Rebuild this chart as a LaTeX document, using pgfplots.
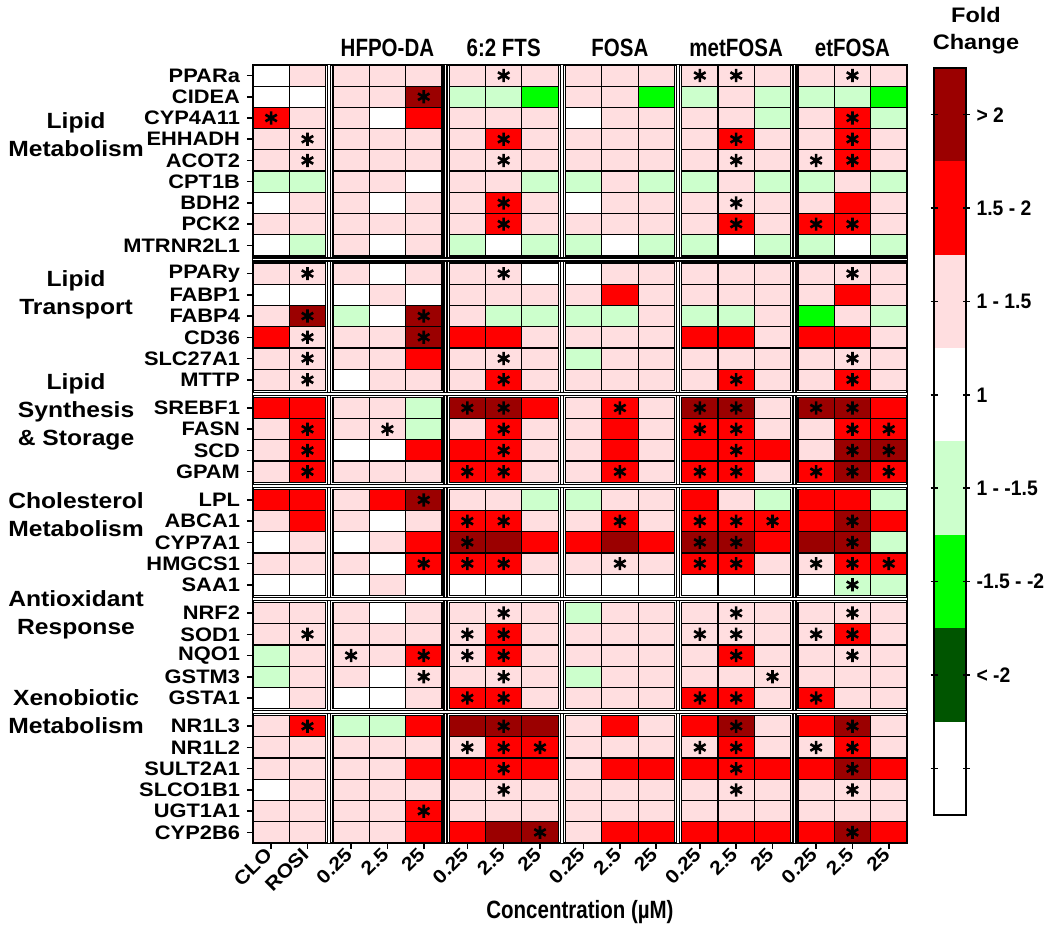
\documentclass[border=0pt]{standalone}
\usepackage{pgfplots}
\pgfplotsset{compat=1.18}
\usepackage{pgfplotstable}
\usepackage{fontspec}
\setmainfont{Liberation Sans}
\newfontfamily\widefont[FakeStretch=1.12]{Liberation Sans}
\newfontfamily\narrowfont[FakeStretch=0.82]{Liberation Sans}
\newfontfamily\legfont[FakeStretch=0.92]{Liberation Sans}
\definecolor{dred}{RGB}{155,0,0}
\definecolor{fred}{RGB}{255,0,0}
\definecolor{pnk}{RGB}{255,222,224}
\definecolor{lgrn}{RGB}{204,255,204}
\definecolor{grn}{RGB}{0,255,0}
\definecolor{dgrn}{RGB}{0,85,0}
\pgfdeclareplotmark{cell}{\pgfpathrectangle{\pgfpoint{-9.0825pt}{-5.3075pt}}{\pgfpoint{18.165pt}{10.615pt}}\pgfusepathqfillstroke}

% fold-change class: 3 (>2), 2 (1.5-2), 1 (1-1.5), 0 (1), -1 (1 - -1.5), -2 (-1.5 - -2), -3 (< -2)
% columns: CLO ROSI | HFPO-DA 0.25 2.5 25 | 6:2 FTS | FOSA | metFOSA | etFOSA
\pgfplotstableread{
c0 c1 c2 c3 c4 c5 c6 c7 c8 c9 c10 c11 c12 c13 c14 c15 c16
0 1 1 1 1 1 1 1 1 1 1 1 1 1 1 1 1
0 0 1 1 3 -1 -1 -2 1 1 -2 -1 1 -1 -1 -1 -2
2 1 1 0 2 1 1 1 0 1 1 1 1 -1 1 2 -1
1 1 1 1 1 1 2 1 1 1 1 1 2 1 1 2 1
1 1 1 1 1 1 1 1 1 1 1 1 1 1 1 2 1
-1 -1 1 1 0 1 1 -1 -1 1 -1 -1 1 -1 -1 1 -1
0 1 1 0 1 1 2 1 0 1 1 1 1 1 1 2 1
1 1 1 1 1 1 2 1 1 1 1 1 2 1 2 2 1
0 -1 1 0 1 -1 0 -1 -1 0 -1 -1 0 -1 -1 0 -1
1 1 1 0 1 1 1 0 0 1 1 1 1 1 1 1 1
0 0 0 1 0 1 1 1 1 2 1 1 1 1 1 2 1
1 3 -1 0 3 1 -1 -1 -1 -1 1 -1 -1 1 -2 1 -1
2 1 1 1 3 2 2 1 1 1 1 2 2 1 2 2 1
1 1 1 1 2 1 1 1 -1 1 1 1 1 1 1 1 1
1 1 0 1 1 1 2 1 1 1 1 1 2 1 1 2 1
2 2 1 1 -1 3 3 2 1 2 1 3 3 1 3 3 2
1 2 1 1 -1 1 2 1 1 2 1 2 2 1 1 2 2
1 2 0 0 2 2 2 1 1 2 1 2 2 2 1 3 3
1 2 1 1 1 2 2 1 1 2 1 2 2 1 2 3 2
2 2 1 2 3 1 1 -1 -1 1 1 2 1 -1 2 2 -1
1 2 1 0 1 2 2 1 1 2 1 2 2 2 2 3 2
0 1 0 1 2 3 3 2 2 3 2 3 3 2 3 3 -1
1 1 1 0 2 2 2 1 1 1 1 2 2 1 1 2 2
0 0 0 1 0 0 0 0 0 0 0 0 0 0 0 -1 -1
1 1 1 0 1 1 1 1 -1 1 1 1 1 1 1 1 1
1 1 1 1 1 1 2 1 1 1 1 1 1 1 1 2 1
-1 1 1 1 2 1 2 1 1 1 1 1 2 1 1 1 1
-1 1 1 0 1 1 1 1 -1 1 1 1 1 1 1 1 1
0 1 0 0 1 2 2 1 1 1 1 2 2 1 2 1 1
1 2 -1 -1 2 3 3 3 1 2 1 2 3 1 2 3 1
1 1 1 1 1 1 2 2 1 1 1 1 2 1 1 2 1
1 1 1 1 2 2 2 2 1 2 2 2 2 2 2 3 2
0 1 1 1 1 1 1 1 1 1 1 1 1 1 1 1 1
1 1 1 1 2 1 1 1 1 1 1 1 1 1 1 1 1
1 1 1 1 2 2 3 3 1 2 2 2 2 2 2 3 2
}\fc

% significant cells: column index c, row index r
\pgfplotstableread{
c r
6 0
11 0
12 0
15 0
4 1
0 2
15 2
1 3
6 3
12 3
15 3
1 4
6 4
12 4
14 4
15 4
6 6
12 6
6 7
12 7
14 7
15 7
1 9
6 9
15 9
1 11
4 11
1 12
4 12
1 13
6 13
15 13
1 14
6 14
12 14
15 14
5 15
6 15
9 15
11 15
12 15
14 15
15 15
1 16
3 16
6 16
11 16
12 16
15 16
16 16
1 17
6 17
12 17
15 17
16 17
1 18
5 18
6 18
9 18
11 18
12 18
14 18
15 18
16 18
4 19
5 20
6 20
9 20
11 20
12 20
13 20
15 20
5 21
11 21
12 21
15 21
4 22
5 22
6 22
9 22
11 22
12 22
14 22
15 22
16 22
15 23
6 24
12 24
15 24
1 25
5 25
6 25
11 25
12 25
14 25
15 25
2 26
4 26
5 26
6 26
12 26
15 26
4 27
6 27
13 27
5 28
6 28
11 28
12 28
14 28
1 29
6 29
12 29
15 29
5 30
6 30
7 30
11 30
12 30
14 30
15 30
6 31
12 31
15 31
6 32
12 32
15 32
4 33
7 34
15 34
}\stars

\begin{document}
\begin{tikzpicture}
\useasboundingbox (0,0) rectangle (525pt,465.5pt);
\begin{axis}[
  at={(126.5pt,44pt)}, anchor=south west,
  x=18.165pt, y=10.615pt, y dir=reverse,
  xmin=-0.5, xmax=17.5, ymin=-0.5, ymax=36.15,
  clip=false, axis on top,
  axis line style={black, line width=1.2pt},
  tick pos=left, tick align=outside, major tick length=3pt,
  tick style={black, line width=0.8pt},
  xtick={0,1,2.2,3.2,4.2,5.4,6.4,7.4,8.6,9.6,10.6,11.8,12.8,13.8,15,16,17},
  xticklabels={CLO,ROSI,0.25,2.5,25,0.25,2.5,25,0.25,2.5,25,0.25,2.5,25,0.25,2.5,25},
  xticklabel style={rotate=45, anchor=east, inner sep=1.5pt, font=\fontsize{9.5}{11}\selectfont\widefont\bfseries},
  ytick={0,1,2,3,4,5,6,7,8,9.33,10.33,11.33,12.33,13.33,14.33,15.66,16.66,17.66,18.66,19.99,20.99,21.99,22.99,23.99,25.32,26.32,27.32,28.32,29.32,30.65,31.65,32.65,33.65,34.65,35.65},
  yticklabels={PPARa,CIDEA,CYP4A11,EHHADH,ACOT2,CPT1B,BDH2,PCK2,MTRNR2L1,PPARy,FABP1,FABP4,CD36,SLC27A1,MTTP,SREBF1,FASN,SCD,GPAM,LPL,ABCA1,CYP7A1,HMGCS1,SAA1,NRF2,SOD1,NQO1,GSTM3,GSTA1,NR1L3,NR1L2,SULT2A1,SLCO1B1,UGT1A1,CYP2B6},
  yticklabel style={font=\fontsize{9.75}{11}\selectfont\widefont\bfseries},
  extra x ticks={1.6,4.8,8,11.2,14.4},
  extra x tick labels={},
  extra x tick style={grid=major, major tick length=0pt, major grid style={black, line width=0.7pt, double=white, double distance=0.8pt}},
  extra y ticks={8.665,14.995,19.325,24.655,29.985},
  extra y tick labels={},
  extra y tick style={grid=major, major tick length=0pt, major grid style={black, line width=0.7pt, double=white, double distance=0.8pt}},
]
\pgfplotsinvokeforeach{0,...,16}{
  \addplot[scatter, only marks, mark=cell, scatter src=explicit symbolic,
    scatter/classes={3={fill=dred},2={fill=fred},1={fill=pnk},0={fill=white},-1={fill=lgrn},-2={fill=grn},-3={fill=dgrn}},
    mark options={draw=black, line width=0.6pt}]
    table[x expr={#1+0.2*((#1>1)+(#1>4)+(#1>7)+(#1>10)+(#1>13))},
          y expr={\coordindex+0.33*((\coordindex>8)+(\coordindex>14)+(\coordindex>18)+(\coordindex>23)+(\coordindex>28))},
          meta=c#1] {\fc};
}
\addplot[only marks, mark=asterisk, mark size=3.3pt, mark options={black, line width=1.3pt}]
  table[x expr={\thisrow{c}+0.2*((\thisrow{c}>1)+(\thisrow{c}>4)+(\thisrow{c}>7)+(\thisrow{c}>10)+(\thisrow{c}>13))},
        y expr={\thisrow{r}+0.33*((\thisrow{r}>8)+(\thisrow{r}>14)+(\thisrow{r}>18)+(\thisrow{r}>23)+(\thisrow{r}>28))}] {\stars};

\begin{scope}[every node/.style={font=\fontsize{12.5}{15}\selectfont\narrowfont\bfseries}]
\node[yshift=8.5pt] at (axis cs:3.2,-0.5) {HFPO-DA};
\node[yshift=8.5pt] at (axis cs:6.4,-0.5) {6:2 FTS};
\node[yshift=8.5pt] at (axis cs:9.6,-0.5) {FOSA};
\node[yshift=8.5pt] at (axis cs:12.8,-0.5) {metFOSA};
\node[yshift=8.5pt] at (axis cs:16,-0.5) {etFOSA};
\node[yshift=-34.5pt] at (axis cs:8.5,36.15) {Concentration (µM)};
\end{scope}
\begin{scope}[every node/.style={align=center, font=\fontsize{11}{14}\selectfont\widefont\bfseries}]
\node at (axis cs:-5.37,2.8) {Lipid\\Metabolism};
\node at (axis cs:-5.37,10.33) {Lipid\\Transport};
\node at (axis cs:-5.37,15.84) {Lipid\\Synthesis\\\& Storage};
\node at (axis cs:-5.37,20.7) {Cholesterol\\Metabolism};
\node at (axis cs:-5.37,25.4) {Antioxidant\\Response};
\node at (axis cs:-5.37,29.98) {Xenobiotic\\Metabolism};
\end{scope}
\end{axis}

\begin{axis}[
  at={(467pt,58pt)}, anchor=south west,
  width=16pt, height=373.5pt, scale only axis,
  xmin=0, xmax=1, ymin=0, ymax=8,
  xtick=\empty,
  ytick={0.5,1.5,2.5,3.5,4.5,5.5,6.5,7.5},
  yticklabels={{},{< -2},{-1.5 - -2},{1 - -1.5},{1},{1 - 1.5},{1.5 - 2},{> 2}},
  ytick pos=both, yticklabel pos=right, tick align=center, major tick length=3.5pt,
  tick style={black, line width=0.8pt},
  axis line style={black, line width=1.2pt},
  axis on top,
  yticklabel style={font=\fontsize{10.5}{12}\selectfont\legfont\bfseries},
]
\addplot[fill=dred, draw=none] coordinates {(0,8) (1,8)} \closedcycle;
\addplot[fill=fred, draw=none] coordinates {(0,7) (1,7)} \closedcycle;
\addplot[fill=pnk, draw=none] coordinates {(0,6) (1,6)} \closedcycle;
\addplot[fill=white, draw=none] coordinates {(0,5) (1,5)} \closedcycle;
\addplot[fill=lgrn, draw=none] coordinates {(0,4) (1,4)} \closedcycle;
\addplot[fill=grn, draw=none] coordinates {(0,3) (1,3)} \closedcycle;
\addplot[fill=dgrn, draw=none] coordinates {(0,2) (1,2)} \closedcycle;
\addplot[fill=white, draw=none] coordinates {(0,1) (1,1)} \closedcycle;
\end{axis}
\node[align=center, font=\fontsize{10.5}{13.5}\selectfont\widefont\bfseries] at (488pt,450.3pt) {Fold\\Change};
\end{tikzpicture}
\end{document}
